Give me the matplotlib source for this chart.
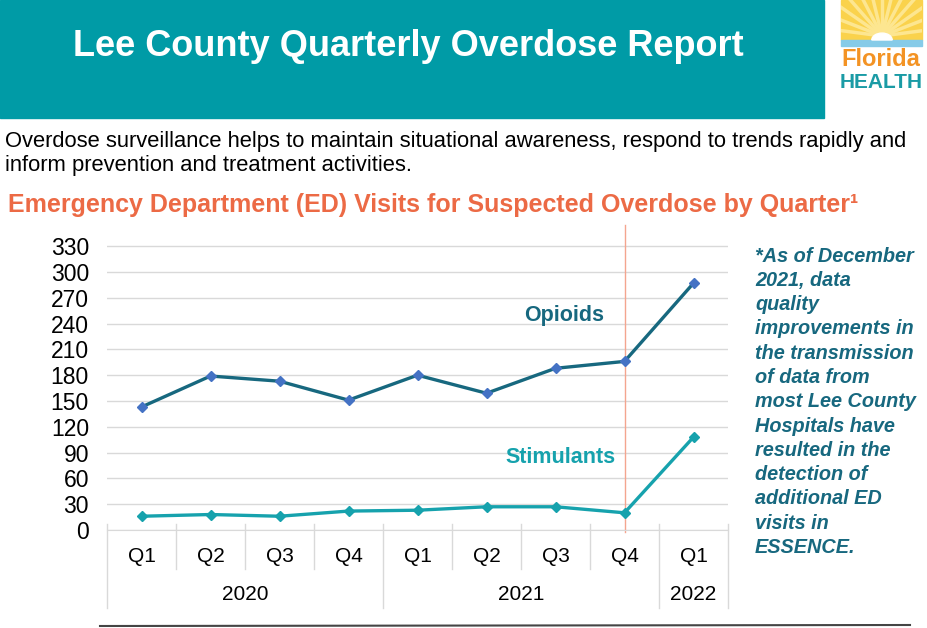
import matplotlib
matplotlib.use("Agg")
import matplotlib.pyplot as plt
import matplotlib.patches as mpatches
import matplotlib.transforms as mtrans
import numpy as np

# ---- data ----
quarters = ["Q1", "Q2", "Q3", "Q4", "Q1", "Q2", "Q3", "Q4", "Q1"]
years = ["2020", "2021", "2022"]
year_spans = [(0, 3), (4, 7), (8, 8)]  # first/last quarter index of each year
opioids = [143, 179, 173, 151, 180, 159, 188, 196, 287]
stimulants = [16, 18, 16, 22, 23, 27, 27, 20, 108]
yticks = list(range(0, 331, 30))

W, H = 928, 628
plt.rcParams['font.family'] = ['Liberation Sans', 'DejaVu Sans']

fig = plt.figure(figsize=(W / 100, H / 100), dpi=100)
fig.patch.set_facecolor("white")

def fx(px):
    return px / W

def fy(py):
    return 1 - py / H

# header band
fig.patches.append(mpatches.Rectangle((0, fy(118)), fx(824), 118 / H, transform=fig.transFigure,
                                      color="#009BA6", zorder=0))
fig.text(fx(408), fy(46), "Lee County Quarterly Overdose Report", color="white",
         fontsize=26, fontweight="bold", ha="center", va="center")

# logo (rough)
sunbox = mpatches.Rectangle((fx(841), fy(40)), fx(81), 40 / H, transform=fig.transFigure,
                            color="#FAD24C", zorder=1)
fig.patches.append(sunbox)
for k in range(-6, 7):
    ang = np.pi / 2 + k * 0.24
    ray = plt.Line2D([fx(882), fx(882 + 70 * np.cos(ang))], [fy(36), fy(36 - 70 * np.sin(ang))],
                     transform=fig.transFigure, color="#FDE690", lw=2.5, zorder=1.5)
    fig.add_artist(ray)
    ray.set_clip_path(sunbox)
fig.patches.append(mpatches.Rectangle((fx(841), fy(46)), fx(81), 6 / H, transform=fig.transFigure,
                                      color="#86CBE8", zorder=2))
fig.patches.append(mpatches.Wedge((fx(882), fy(40)), 0.011, 0, 180, transform=fig.transFigure,
                                  color="white", zorder=2))
fig.text(fx(881), fy(59), "Florida", color="#F39324", fontsize=17, fontweight="bold",
         ha="center", va="center", zorder=3)
fig.text(fx(881), fy(82), "HEALTH", color="#1A9BA5", fontsize=15, fontweight="bold",
         ha="center", va="center", zorder=3)

# intro text
fig.text(fx(5), fy(141), "Overdose surveillance helps to maintain situational awareness, respond to trends rapidly and",
         fontsize=15.8, va="center", ha="left", color="black")
fig.text(fx(5), fy(165), "inform prevention and treatment activities.",
         fontsize=15.8, va="center", ha="left", color="black")
fig.text(fx(8), fy(205), "Emergency Department (ED) Visits for Suspected Overdose by Quarter\u00b9",
         fontsize=18, fontweight="bold", va="center", ha="left", color="#EC6A45")

# chart axes
ax = fig.add_axes([fx(107), fy(530), fx(728 - 107), (530 - 225) / H])
x = np.arange(len(quarters))
ax.plot(x, opioids, color="#17687F", lw=2.4, marker="D", ms=5,
        mfc="#4472C4", mec="#4472C4", zorder=3)
ax.plot(x, stimulants, color="#16A2AD", lw=2.4, marker="D", ms=5,
        mfc="#16A2AD", mec="#16A2AD", zorder=3)
ax.set_xlim(-0.5, len(quarters) - 0.5)
ax.set_ylim(0, 354.6)
ax.set_yticks(yticks)
ax.tick_params(axis="y", length=0, labelsize=16.5, pad=13)
ax.set_xticks([])
ax.grid(axis="y", color="#D9D9D9", lw=1)
ax.set_axisbelow(True)
for s in ["top", "right", "left"]:
    ax.spines[s].set_visible(False)
ax.spines["bottom"].set_color("#D9D9D9")

# red marker line at Q4 2021
ax.plot([7, 7], [-2, 354.6], color="#F4A58F", lw=1, clip_on=False, zorder=2)

ax.text(6.12, 249, "Opioids", color="#17687F", fontsize=15.5, fontweight="bold", ha="center", va="center")
ax.text(6.07, 84, "Stimulants", color="#16A2AD", fontsize=15.5, fontweight="bold", ha="center", va="center")

# multi-level category axis
tr = mtrans.blended_transform_factory(ax.transData, ax.transAxes)
ph = 305.0
for i, q in enumerate(quarters):
    ax.text(i, -(556 - 530) / ph, q, transform=tr, ha="center", va="center",
            fontsize=15, family=["Liberation Sans Narrow", "Liberation Sans"])
for i in range(len(quarters) + 1):
    xs = i - 0.5
    is_year = xs in (-0.5, 3.5, 7.5, 8.5)
    y1 = -(608 - 530) / ph if is_year else -(569 - 530) / ph
    ax.plot([xs, xs], [0.02, y1], transform=tr, color="#D9D9D9", lw=1, clip_on=False)
for yr, (a, b) in zip(years, year_spans):
    ax.text((a + b) / 2, -(595 - 530) / ph, yr, transform=tr, ha="center", va="center",
            fontsize=15, family=["Liberation Sans Narrow", "Liberation Sans"])

# side note
note = ["*As of December", "2021, data", "quality", "improvements in", "the transmission",
        "of data from", "most Lee County", "Hospitals have", "resulted in the",
        "detection of", "additional ED", "visits in", "ESSENCE."]
for k, line in enumerate(note):
    fig.text(fx(755), fy(256 + k * 24.3), line, color="#17687F", fontsize=14.3,
             fontweight="bold", fontstyle="italic", ha="left", va="center")

# bottom rule
fig.add_artist(plt.Line2D([fx(100), fx(910)], [fy(626), fy(625)], transform=fig.transFigure,
                          color="#444444", lw=1.5))

fig.savefig("out.png", dpi=100)
